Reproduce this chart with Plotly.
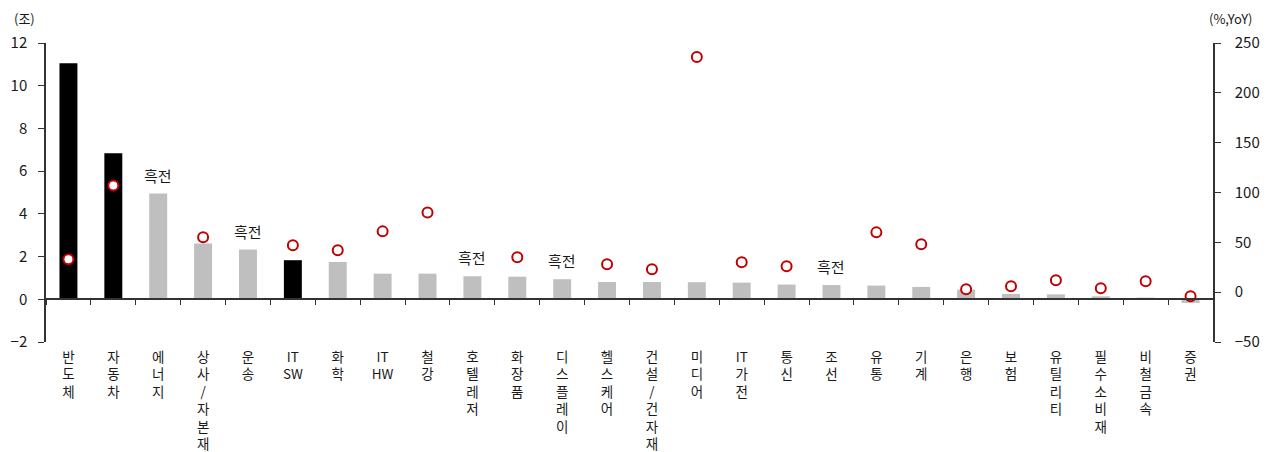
import re
import plotly.graph_objects as go

# 업종별 이익 (조원) 및 증가율 (%, YoY)
sectors = ['반도체', '자동차', '에너지', '상사/자본재', '운송', 'ITSW', '화학', 'ITHW', '철강',
           '호텔레저', '화장품', '디스플레이', '헬스케어', '건설/건자재', '미디어', 'IT가전',
           '통신', '조선', '유통', '기계', '은행', '보험', '유틸리티', '필수소비재', '비철금속', '증권']
profit = [11.05, 6.84, 4.95, 2.61, 2.33, 1.83, 1.75, 1.20, 1.20, 1.08, 1.06, 0.94, 0.81,
          0.81, 0.80, 0.78, 0.69, 0.67, 0.64, 0.58, 0.45, 0.25, 0.23, 0.14, 0.08, -0.17]
yoy = [33, 107, None, 55, None, 47, 42, 61, 80, None, 35, None, 28, 23, 236, 30, 26,
       None, 60, 48, 3, 6, 12, 4, 11, -4]
highlight = ['반도체', '자동차', 'ITSW']
turnaround = ['에너지', '운송', '호텔레저', '디스플레이', '조선']

FONT = 'Noto Sans CJK KR'
TXT = '#1a1a1a'
AX = '#333333'
n = len(sectors)

# the page body adds an 8px offset, so the figure is 8px smaller than the window
OFF = 8
W, H = 1268 - OFF, 452 - OFF
L, T = 46 - OFF, 43 - OFF
R, B = W - (1213 - OFF), H - (342 - OFF)
pw, ph = W - L - R, H - T - B

bar_colors = ['#000000' if s in highlight else '#bfbfbf' for s in sectors]
# vertical labels: one syllable per line, latin letters kept in pairs
tick_text = ['<br>'.join(re.findall(r'[A-Za-z]{1,2}|.', s)) for s in sectors]

fig = go.Figure()

fig.add_trace(go.Bar(
    x=sectors, y=profit,
    marker=dict(color=bar_colors, line=dict(width=0)),
    width=0.4, xaxis='x', yaxis='y', showlegend=False,
))

fig.add_trace(go.Scatter(
    x=sectors, y=yoy, mode='markers',
    marker=dict(symbol='circle', size=10, color='white',
                line=dict(color='#c00000', width=2)),
    xaxis='x2', yaxis='y2', showlegend=False,
))

# 흑전 labels above bars
for s in turnaround:
    i = sectors.index(s)
    fig.add_annotation(x=s, y=profit[i], xref='x', yref='y', text='흑전',
                       showarrow=False, yanchor='bottom', yshift=6,
                       font=dict(size=15, color=TXT, family=FONT))

# unit labels
unit_y = (H - B - (18 - OFF)) / ph
fig.add_annotation(x=(4 - L) / pw, y=unit_y, xref='paper', yref='paper',
                   xanchor='left', yanchor='middle', text='(조)', showarrow=False,
                   font=dict(size=13, color=TXT, family=FONT))
fig.add_annotation(x=(1246 - L) / pw, y=unit_y, xref='paper', yref='paper',
                   xanchor='right', yanchor='middle', text='(%,YoY)', showarrow=False,
                   font=dict(size=13, color=TXT, family=FONT))

yrange = [-2, 12]
zero_pos = (0 - yrange[0]) / (yrange[1] - yrange[0])

fig.update_layout(
    width=W, height=H,
    margin=dict(l=L, r=R, t=T, b=B, autoexpand=False),
    paper_bgcolor='white', plot_bgcolor='white',
    font=dict(family=FONT, size=14, color=TXT),
    xaxis=dict(
        type='category', categoryorder='array', categoryarray=sectors,
        range=[-0.5, n - 0.5], tickvals=sectors, ticktext=tick_text,
        showline=False, ticks='', showgrid=False, zeroline=False, automargin=False,
        tickangle=0, tickfont=dict(size=13.5, color=TXT), ticklabelstandoff=5,
    ),
    xaxis2=dict(
        type='category', categoryorder='array', categoryarray=sectors,
        range=[-0.5, n - 0.5], overlaying='x', anchor='free', position=zero_pos,
        showline=True, linecolor=AX, linewidth=1.5,
        ticks='outside', tickson='boundaries', ticklen=5, tickcolor=AX,
        showticklabels=False, showgrid=False, zeroline=False, automargin=False,
    ),
    yaxis=dict(
        range=yrange, dtick=2, showline=True, linecolor=AX, linewidth=1.5,
        ticks='outside', ticklen=6, tickcolor=AX, showgrid=False, automargin=False,
        zeroline=False, tickfont=dict(size=15, color=TXT), ticklabelstandoff=8,
    ),
    yaxis2=dict(
        range=[-50, 250], dtick=50, overlaying='y', side='right',
        showline=True, linecolor=AX, linewidth=1.5, automargin=False,
        ticks='outside', ticklen=6, tickcolor=AX, showgrid=False,
        zeroline=False, tickfont=dict(size=15, color=TXT), ticklabelstandoff=11,
    ),
)

fig.write_html('out.html')
